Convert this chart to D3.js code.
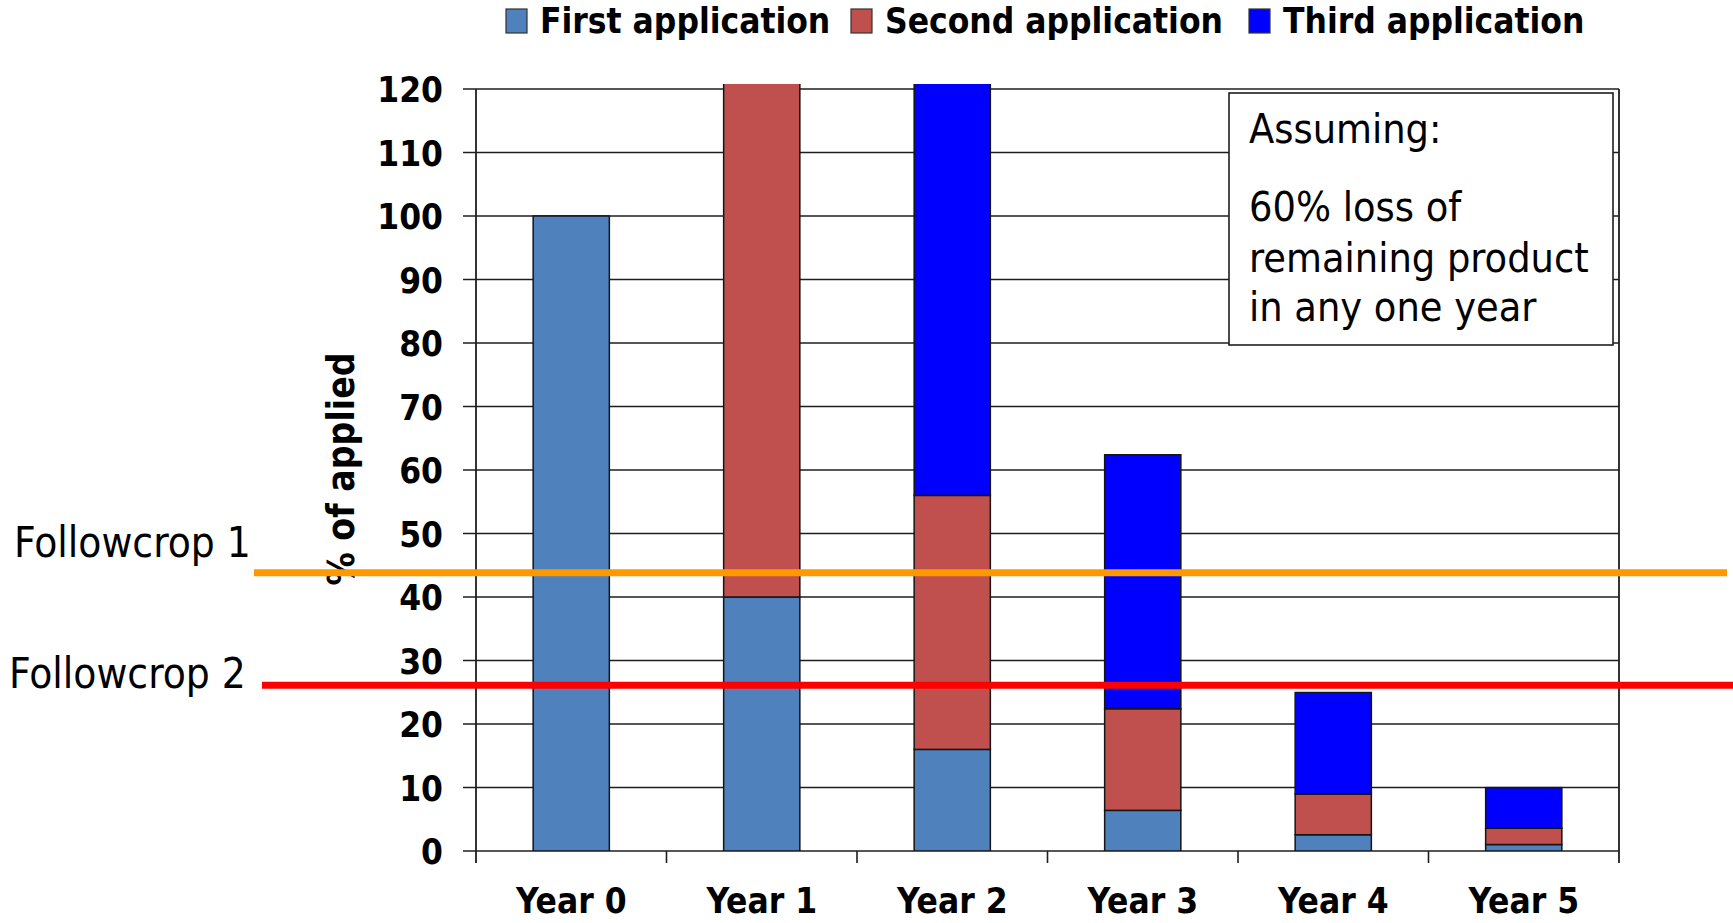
<!DOCTYPE html>
<html>
<head>
<meta charset="utf-8">
<script src="https://cdn.jsdelivr.net/npm/d3@7/dist/d3.min.js"></script>
<style>
  html, body { margin: 0; padding: 0; background: #ffffff; }
  svg { display: block; }
  .bold { font-family: "DejaVu Sans Condensed", "DejaVu Sans", sans-serif; font-weight: bold; font-stretch: condensed; }
  .regular { font-family: "DejaVu Sans Condensed", "DejaVu Sans", sans-serif; font-stretch: condensed; }
</style>
</head>
<body>
<svg id="chart" width="1733" height="923"></svg>
<script>
// Share of each application still remaining, per year (60% lost every year)
const years = ["Year 0", "Year 1", "Year 2", "Year 3", "Year 4", "Year 5"];
const firstApplication  = [100, 40, 16, 6.4, 2.56, 1.02];
const secondApplication = [0, 100, 40, 16, 6.4, 2.56];
const thirdApplication  = [0, 0, 100, 40, 16, 6.4];

const seriesNames  = ["First application", "Second application", "Third application"];
const seriesColors = ["#4F81BD", "#C0504D", "#0000FF"];

const yTicks = [0, 10, 20, 30, 40, 50, 60, 70, 80, 90, 100, 110, 120];
const yTitle = "% of applied";

// Threshold levels for the follow crops
const followcropLabels = ["Followcrop 1", "Followcrop 2"];
const followcropLevels = [43.8, 26.1];
const followcropColors = ["#FF9900", "#FF0000"];

const noteLines = ["Assuming:", "60% loss of", "remaining product", "in any one year"];

// ---- layout ----
const plot = { left: 476, right: 1619, top: 89, bottom: 851 };
const svg = d3.select("#chart");

const x = d3.scaleBand()
  .domain(years)
  .range([plot.left, plot.right])
  .paddingInner(0.6)
  .paddingOuter(0.3);

const y = d3.scaleLinear()
  .domain([0, 120])
  .range([plot.bottom, plot.top]);

const rows = years.map((yr, i) => ({
  year: yr,
  s0: firstApplication[i],
  s1: secondApplication[i],
  s2: thirdApplication[i]
}));
const stacked = d3.stack().keys(["s0", "s1", "s2"])(rows);

const gridColor = "#1e1e1e";

// horizontal gridlines (and their tick stubs on the left)
svg.append("g")
  .selectAll("line")
  .data(yTicks)
  .join("line")
  .attr("x1", plot.left - 13)
  .attr("x2", plot.right)
  .attr("y1", d => y(d))
  .attr("y2", d => y(d))
  .attr("stroke", gridColor)
  .attr("stroke-width", 1.6);

// bars, clipped slightly above the top of the axis
svg.append("defs").append("clipPath").attr("id", "plotClip")
  .append("rect")
  .attr("x", plot.left)
  .attr("y", y(120.8))
  .attr("width", plot.right - plot.left)
  .attr("height", y(0) - y(120.8));

const barG = svg.append("g").attr("clip-path", "url(#plotClip)");
stacked.forEach((layer, k) => {
  barG.append("g")
    .selectAll("rect")
    .data(layer.filter(d => d[1] - d[0] > 0))
    .join("rect")
    .attr("x", d => x(d.data.year))
    .attr("width", x.bandwidth())
    .attr("y", d => y(d[1]))
    .attr("height", d => y(d[0]) - y(d[1]))
    .attr("fill", seriesColors[k])
    .attr("stroke", "#151515")
    .attr("stroke-width", 1.5);
});

// y axis: tick labels
const yAxis = d3.axisLeft(y).tickValues(yTicks).tickSize(13).tickPadding(20).tickSizeOuter(0);
const yAxisG = svg.append("g")
  .attr("transform", `translate(${plot.left},0)`)
  .call(yAxis);
yAxisG.select(".domain").remove();
yAxisG.selectAll(".tick line").remove();
yAxisG.selectAll(".tick text")
  .attr("class", "bold")
  .attr("font-size", 35)
  .attr("fill", "#000")
  .attr("dy", "0.36em");

// left axis line and right border, both dropping to the category tick length
[plot.left, plot.right].forEach(px => {
  svg.append("line")
    .attr("x1", px).attr("x2", px)
    .attr("y1", y(120)).attr("y2", y(0) + 12)
    .attr("stroke", gridColor)
    .attr("stroke-width", 1.8);
});

// x category boundary ticks
const boundaries = d3.range(1, years.length).map(i => plot.left + i * x.step());
svg.append("g")
  .selectAll("line")
  .data(boundaries)
  .join("line")
  .attr("x1", d => d).attr("x2", d => d)
  .attr("y1", y(0)).attr("y2", y(0) + 12)
  .attr("stroke", gridColor)
  .attr("stroke-width", 1.6);

// x labels
svg.append("g")
  .selectAll("text")
  .data(years)
  .join("text")
  .attr("class", "bold")
  .attr("font-size", 35)
  .attr("text-anchor", "middle")
  .attr("x", d => x(d) + x.bandwidth() / 2)
  .attr("y", 913)
  .text(d => d);

// note box
const note = svg.append("g");
note.append("rect")
  .attr("x", 1229).attr("y", 93)
  .attr("width", 384).attr("height", 252)
  .attr("fill", "#ffffff")
  .attr("stroke", "#1e1e1e")
  .attr("stroke-width", 1.6);
const noteBaselines = [143, 221, 272, 321];
note.selectAll("text")
  .data(noteLines)
  .join("text")
  .attr("class", "regular")
  .attr("font-size", 41)
  .attr("x", 1249)
  .attr("y", (d, i) => noteBaselines[i])
  .attr("fill", "#000")
  .text(d => d);

// y axis title
svg.append("text")
  .attr("class", "bold")
  .attr("font-size", 37)
  .attr("text-anchor", "middle")
  .attr("transform", "translate(354,469) rotate(-90)")
  .text(yTitle);

// follow crop threshold lines
const lineStarts = [254, 262];
const lineEnds = [1727, 1733];
svg.append("g")
  .selectAll("line")
  .data(followcropLevels)
  .join("line")
  .attr("x1", (d, i) => lineStarts[i])
  .attr("x2", (d, i) => lineEnds[i])
  .attr("y1", d => y(d))
  .attr("y2", d => y(d))
  .attr("stroke", (d, i) => followcropColors[i])
  .attr("stroke-width", 7);

const labelX = [14, 9];
const labelY = [557, 688];
svg.append("g")
  .selectAll("text")
  .data(followcropLabels)
  .join("text")
  .attr("class", "regular")
  .attr("font-size", 42)
  .attr("x", (d, i) => labelX[i])
  .attr("y", (d, i) => labelY[i])
  .text(d => d);

// legend
const legendSwatchX = [506, 851, 1249];
const legend = svg.append("g");
seriesNames.forEach((name, i) => {
  legend.append("rect")
    .attr("x", legendSwatchX[i]).attr("y", 9)
    .attr("width", 21).attr("height", 24)
    .attr("fill", seriesColors[i])
    .attr("stroke", "#333")
    .attr("stroke-width", 1.2);
  legend.append("text")
    .attr("class", "bold")
    .attr("font-size", 35)
    .attr("x", legendSwatchX[i] + 34)
    .attr("y", 33)
    .text(name);
});
</script>
</body>
</html>
